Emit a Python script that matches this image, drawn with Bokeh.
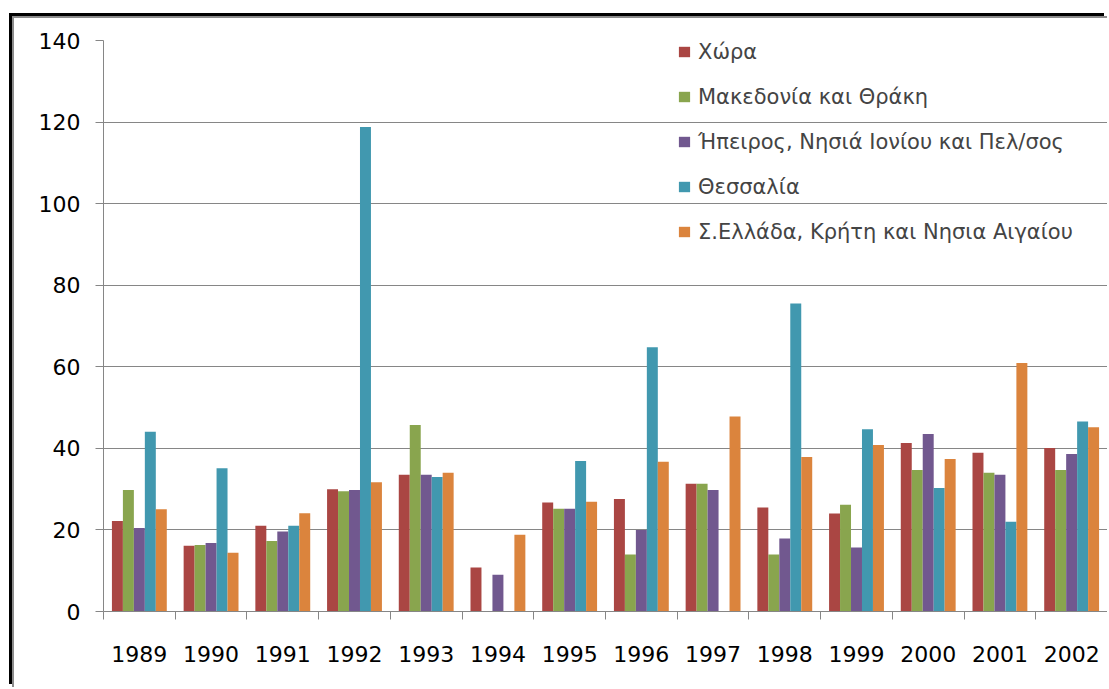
import numpy as np
from bokeh.plotting import figure
from bokeh.models import Range1d, FixedTicker, Legend, LegendItem, ColumnDataSource
from bokeh.transform import dodge
from bokeh.embed import file_html
from bokeh.resources import INLINE

nan = float("nan")

years = ["1989", "1990", "1991", "1992", "1993", "1994", "1995",
         "1996", "1997", "1998", "1999", "2000", "2001", "2002"]

series_names = ["Χώρα", "Μακεδονία και Θράκη", "Ήπειρος, Νησιά Ιονίου και Πελ/σος",
                "Θεσσαλία", "Σ.Ελλάδα, Κρήτη και Νησια Αιγαίου"]

xwra = [22.2, 16.1, 21.0, 30.0, 33.5, 10.8, 26.7, 27.6, 31.3, 25.5, 24.0, 41.3, 38.9, 40.1]
makedonia = [29.8, 16.3, 17.3, 29.5, 45.7, nan, 25.2, 14.0, 31.3, 14.0, 26.2, 34.7, 34.0, 34.7]
hpeiros = [20.5, 16.8, 19.6, 29.8, 33.5, 9.0, 25.2, 20.0, 29.8, 17.9, 15.7, 43.5, 33.5, 38.6]
thessalia = [44.1, 35.1, 21.0, 118.8, 33.0, nan, 36.9, 64.8, nan, 75.5, 44.7, 30.3, 22.0, 46.6]
sellada = [25.1, 14.4, 24.1, 31.7, 34.0, 18.8, 26.9, 36.7, 47.8, 37.9, 40.8, 37.4, 60.9, 45.2]

colors = ["#AA4643", "#89A54E", "#71588F", "#4198AF", "#DB843D"]
y_ticks = [0, 20, 40, 60, 80, 100, 120, 140]

series = [xwra, makedonia, hpeiros, thessalia, sellada]
x_centers = [i + 0.5 for i in range(len(years))]
data = {"x": x_centers, "year": years}
keys = ["s0", "s1", "s2", "s3", "s4"]
for k, s in zip(keys, series):
    data[k] = np.array(s, dtype=float)
source = ColumnDataSource(data)

FONT = "DejaVu Sans"
GRAY = "#868686"

p = figure(width=1095, height=671, output_backend="svg", toolbar_location=None,
           x_range=Range1d(0, len(years)), y_range=Range1d(0, 140),
           min_border_left=89, min_border_right=2, min_border_top=22, min_border_bottom=78)
p.background_fill_color = "white"
p.border_fill_color = "white"
p.outline_line_color = None
p.styles = {"margin-left": "12px", "margin-top": "16px",
            "border-left": "2px solid #8c8c8c", "border-top": "2px solid #8c8c8c",
            "box-shadow": "-3px -3px 0 0 black"}

bw = 0.153
offsets = [-2 * bw, -bw, 0, bw, 2 * bw]
renderers = []
for k, off, c in zip(keys, offsets, colors):
    r = p.vbar(x=dodge("x", off), top=k, width=bw, bottom=0, source=source,
               fill_color=c, line_color=None)
    renderers.append(r)

p.xgrid.visible = False
p.ygrid.grid_line_color = GRAY
p.ygrid.ticker = FixedTicker(ticks=y_ticks)

ya = p.yaxis[0]
ya.ticker = FixedTicker(ticks=y_ticks)
ya.axis_line_color = GRAY
ya.major_tick_line_color = GRAY
ya.major_tick_out = 8
ya.major_tick_in = 0
ya.minor_tick_line_color = None
ya.major_label_standoff = 15
ya.major_label_text_font = FONT
ya.major_label_text_font_size = "22px"
ya.major_label_text_color = "black"

xa = p.xaxis[0]
xa.ticker = FixedTicker(ticks=x_centers, minor_ticks=list(range(len(years) + 1)))
xa.major_label_overrides = {x: y for x, y in zip(x_centers, years)}
xa.axis_line_color = GRAY
xa.major_tick_line_color = None
xa.major_tick_out = 0
xa.major_tick_in = 0
xa.minor_tick_line_color = GRAY
xa.minor_tick_out = 8
xa.minor_tick_in = 0
xa.major_label_standoff = 26
xa.major_label_text_font = FONT
xa.major_label_text_font_size = "22px"
xa.major_label_text_color = "black"

items = [LegendItem(label=n, renderers=[r]) for n, r in zip(series_names, renderers)]
legend = Legend(items=items, location=(574, 357), padding=0, margin=0, spacing=0,
                label_height=45, glyph_height=13, glyph_width=14, label_standoff=7,
                label_text_font=FONT, label_text_font_size="21px",
                border_line_alpha=0, background_fill_alpha=0)
p.add_layout(legend)

open("out.html", "w").write(file_html(p, INLINE))
